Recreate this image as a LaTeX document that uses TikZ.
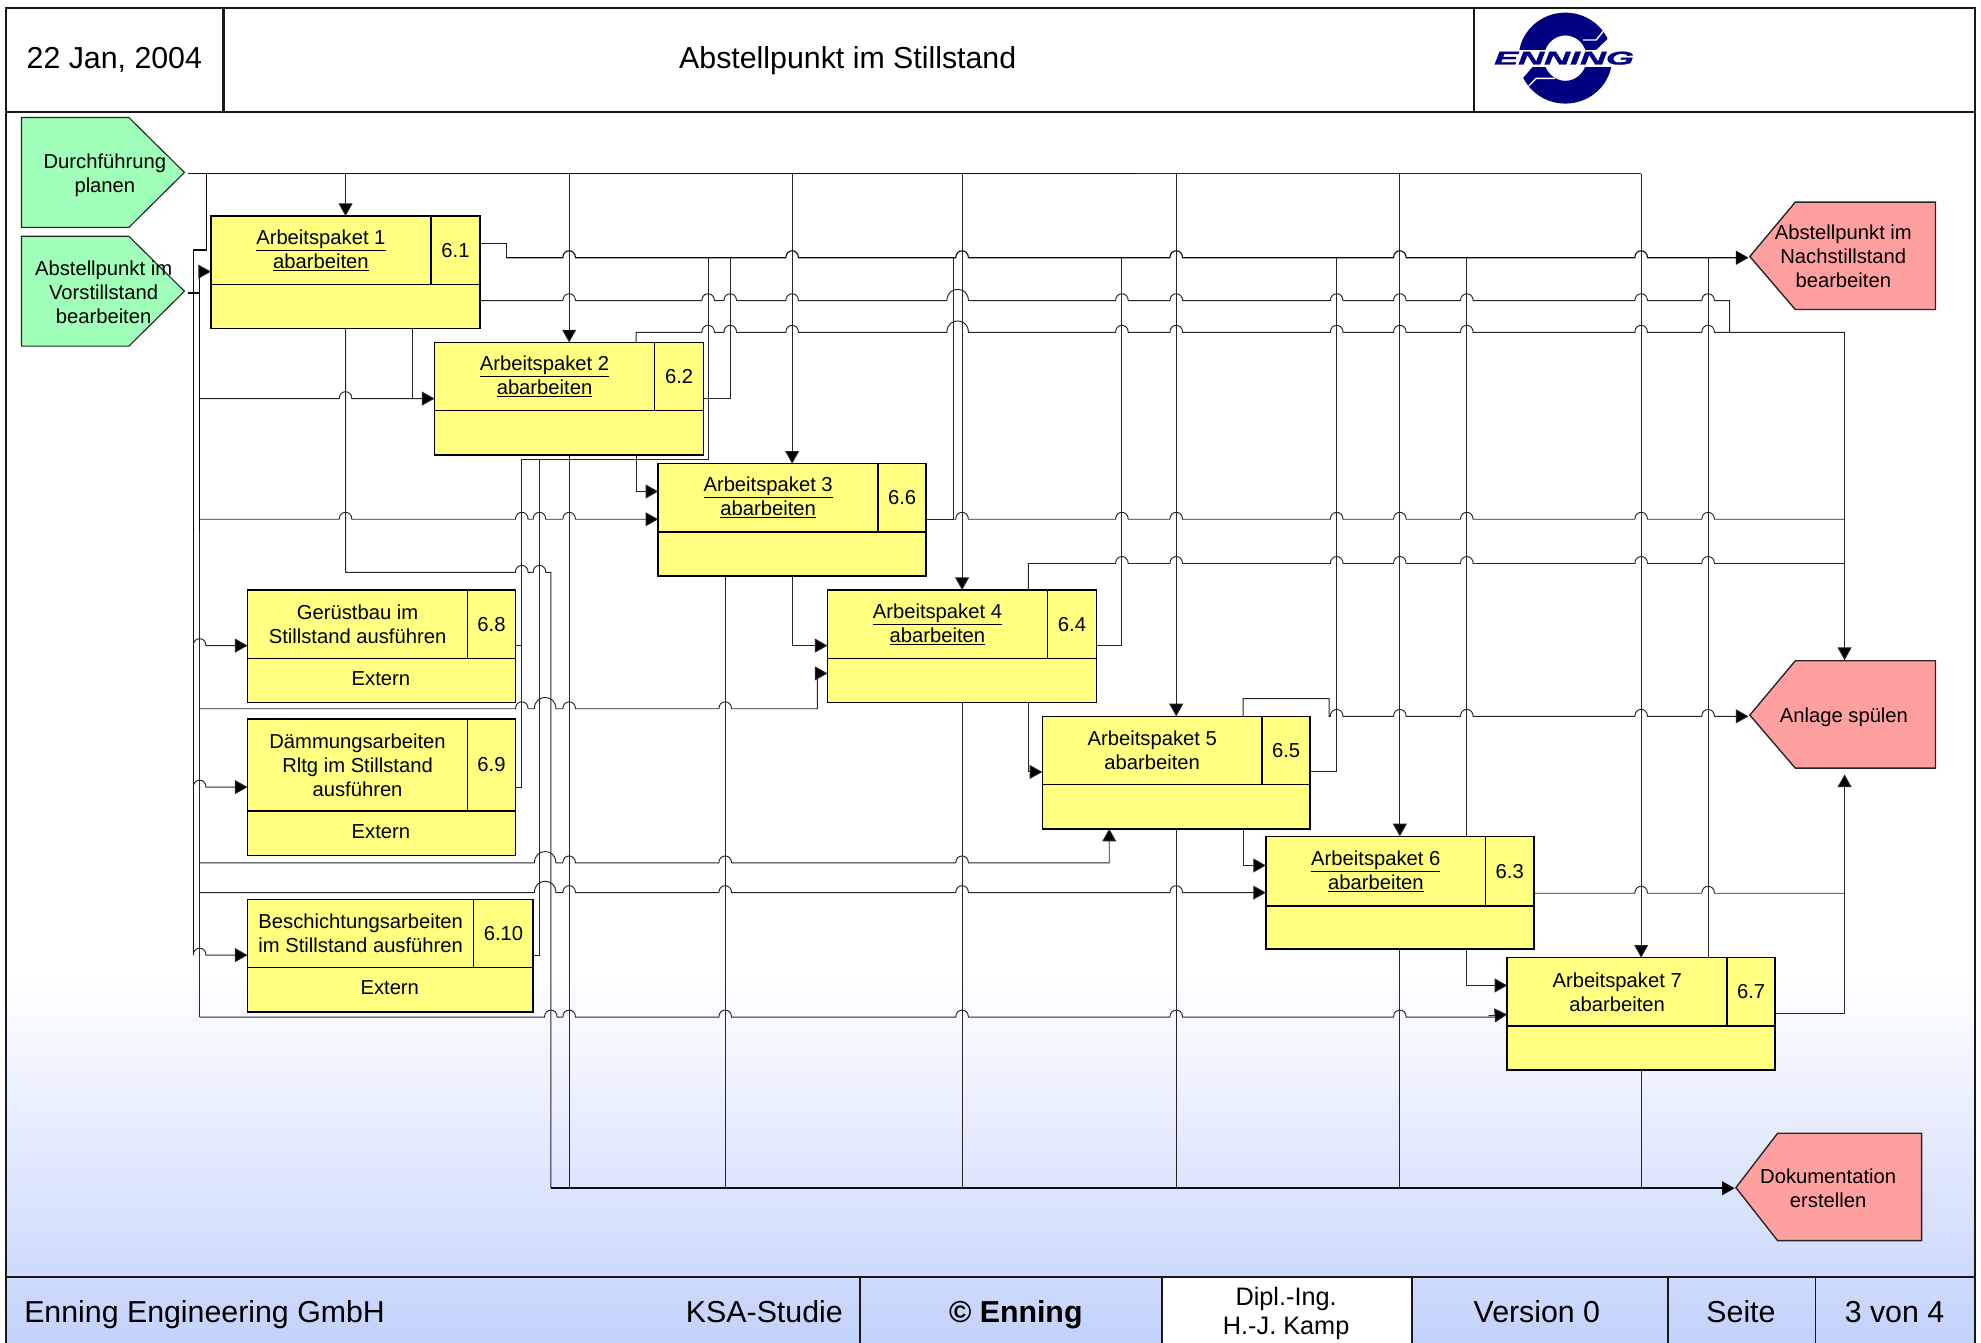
\documentclass[tikz,border=0pt]{standalone}
\usepackage{fontspec}
\setmainfont{Liberation Sans}
\newfontfamily\logofont[BoldItalicFeatures={FakeBold=1.5}]{Liberation Sans}
\usetikzlibrary{arrows.meta}
\definecolor{wpyellow}{HTML}{FFFF80}
\definecolor{ingreen}{HTML}{A0FFB8}
\definecolor{outred}{HTML}{FFA0A0}
\definecolor{footblue}{HTML}{C3D2FB}
\definecolor{logonavy}{HTML}{000080}
\newcommand{\hj}[2]{-- (#1-5,#2) .. controls (#1-5,#2-7.3) and (#1+5,#2-7.3) .. (#1+5,#2)}
\newcommand{\hJ}[2]{-- (#1-8.5,#2) .. controls (#1-8.5,#2-12) and (#1+8.5,#2-12) .. (#1+8.5,#2)}
\newcommand{\wpack}[9]{%
  \pgfmathsetmacro\wpW{#4-#2}\pgfmathsetmacro\wpH{#5-#3}%
  \node[wpbox,minimum width=\wpW pt,minimum height=\wpH pt] (#1) at ({(#2+#4)/2},{(#3+#5)/2}) {};
  \draw[wpline] (#6,#3) -- (#6,#7) (#2,#7) -- (#4,#7);
  \node[txt] (#1t) at ({(#2+#6)/2},{(#3+#7)/2}) {#8};
  \node[txt] (#1n) at ({(#6+#4)/2},{(#3+#7)/2}) {#9};
}
\tikzset{
  wpbox/.style={draw=black,fill=wpyellow,line width=1.2pt,inner sep=0pt,outer sep=0pt},
  wpline/.style={draw=black,line width=1.1pt},
  txt/.style={font=\fontsize{16}{19}\selectfont,align=center,inner sep=0pt,text=black},
  big/.style={font=\fontsize{24}{26}\selectfont,align=center,inner sep=0pt,text=black,anchor=base},
  frameline/.style={draw=black!90,line width=1.5pt},
  lnk/.style={draw=black!85,line width=0.75pt},
  heavy/.style={draw=black!95,line width=1.2pt},
  arr/.style={lnk,-{Triangle[length=10pt,width=11pt,fill=black]}},
  harr/.style={heavy,-{Triangle[length=10pt,width=11pt,fill=black]}},
  green flag/.style={draw=black!85,fill=ingreen,line width=0.9pt},
  red flag/.style={draw=black!85,fill=outred,line width=1.1pt},
}
\begin{document}
\begin{tikzpicture}[x=1pt,y=-1pt]
\useasboundingbox (0,0) rectangle (1568,1063);
% backgrounds
\fill[white] (0,0) rectangle (1568,1063);
\shade[top color=white,bottom color=footblue,shading angle=0] (5,770) rectangle (1563,1063);
\fill[white] (920,1011) rectangle (1117,1063);
% header and footer frame
\draw[frameline] (5,1063) -- (5,6) -- (1563,6) -- (1563,1063);
\draw[frameline] (5,89) -- (1563,89) (5,1011) -- (1563,1011);
\draw[frameline,line width=1.8pt] (177,6) -- (177,89);
\draw[frameline] (1167,6) -- (1167,89);
\draw[frameline] (681,1011) -- (681,1063) (919.5,1011) -- (919.5,1063) (1117.5,1011) -- (1117.5,1063) (1320,1011) -- (1320,1063) (1437,1011) -- (1437,1063);
\node[big] (hdate) at (90.5,54.5) {22 Jan, 2004};
\node[big] (htitle) at (671,54.5) {Abstellpunkt im Stillstand};
\node[big,anchor=base west] (fcomp) at (19,1046.5) {Enning Engineering GmbH};
\node[big] (fksa) at (605,1046.5) {KSA-Studie};
\node[big] (fcopy) at (804,1046.5) {\bfseries © Enning};
\node[font=\fontsize{20}{23}\selectfont,align=center,inner sep=0pt] (fauth) at (1018,1039.5) {Dipl.-Ing.\\H.-J. Kamp};
\node[big] (fver) at (1216.5,1046.5) {Version 0};
\node[big] (fseite) at (1378,1046.5) {Seite};
\node[big] (fpage) at (1499.5,1046.5) {3 von 4};
% logo
\fill[logonavy,even odd rule] (1239,46) circle[x radius=37,y radius=36] (1239,46) circle[x radius=17,y radius=18];
\fill[white] (1273.1,30.3) -- (1263.4,39.6) -- (1286,39.6) -- (1286,30.3) -- cycle;
\fill[white] (1205.1,62) -- (1213.1,52.8) -- (1190.9,52.8) -- (1190.9,62) -- cycle;
\draw[white,line width=1.1pt] (1253,31.7) -- (1263.4,31.7) -- (1269.3,24.3);
\draw[white,line width=1.1pt] (1210.1,68) -- (1216,62) -- (1230.8,62);
\fill[white] (1180,39.5) rectangle (1296,52.8);
\node[inner sep=0pt,text=logonavy,font=\fontsize{14.5}{15}\selectfont\logofont\bfseries\itshape,xscale=1.96,transform shape] (logotxt) at (1238,46) {ENNING};
% flags
\draw[green flag] (17,93) -- (102,93) -- (146,136.5) -- (102,180) -- (17,180) -- cycle;
\draw[green flag] (17,187) -- (102,187) -- (146,230.5) -- (102,274) -- (17,274) -- cycle;
\draw[red flag] (1532,160) -- (1421,160) -- (1385,203) -- (1421,245) -- (1532,245) -- cycle;
\draw[red flag] (1532,523) -- (1421,523) -- (1385,566) -- (1421,608) -- (1532,608) -- cycle;
\draw[red flag] (1521,897) -- (1407,897) -- (1374,940) -- (1407,982) -- (1521,982) -- cycle;
\node[txt] (f1) at (83,138.5) {Durchführung\\planen};
\node[txt] (f2) at (82,231.5) {Abstellpunkt im\\Vorstillstand\\bearbeiten};
\node[txt] (r1) at (1459,202.5) {Abstellpunkt im\\Nachstillstand\\bearbeiten};
\node[txt] (r2) at (1459.5,567.5) {Anlage spülen};
\node[txt] (r3) at (1447,940.5) {Dokumentation\\erstellen};
% work packages
\wpack{ap1}{167}{171}{380}{260}{341}{225}{\underline{Arbeitspaket 1}\\\underline{abarbeiten}}{6.1}
\wpack{ap2}{344}{271}{557}{360}{518}{325}{\underline{Arbeitspaket 2}\\\underline{abarbeiten}}{6.2}
\wpack{ap3}{521}{367}{733}{456}{695}{421}{\underline{Arbeitspaket 3}\\\underline{abarbeiten}}{6.6}
\wpack{ap4}{655}{467}{868}{556}{829}{521}{\underline{Arbeitspaket 4}\\\underline{abarbeiten}}{6.4}
\wpack{ap5}{825}{567}{1037}{656}{999}{621}{Arbeitspaket 5\\abarbeiten}{6.5}
\wpack{ap6}{1002}{662}{1214}{751}{1176}{717}{\underline{Arbeitspaket 6}\\\underline{abarbeiten}}{6.3}
\wpack{ap7}{1193}{758}{1405}{847}{1367}{812}{Arbeitspaket 7\\abarbeiten}{6.7}
\wpack{gb8}{196}{467}{408}{556}{370}{521}{Gerüstbau im\\Stillstand ausführen}{6.8}
\wpack{gb9}{196}{569}{408}{677}{370}{642}{Dämmungsarbeiten\\Rltg im Stillstand\\ausführen}{6.9}
\wpack{gb10}{196}{712}{422}{801}{375}{766}{Beschichtungsarbeiten\\im Stillstand ausführen}{6.10}
\node[txt] (e8) at (301.5,537.5) {Extern};
\node[txt] (e9) at (301.5,658.5) {Extern};
\node[txt] (e10) at (308.5,782) {Extern};
% named connector ends
\coordinate (f1o) at (149,137.5);
\coordinate (f2o) at (149,232);
\coordinate (trunkE) at (1299,137.5);
\coordinate (colAt) at (163.5,198);
\coordinate (colAb) at (153,756);
\coordinate (colBt) at (158,215);
\coordinate (colBb) at (158,805);
\coordinate (busR) at (401,204);
\coordinate (busD) at (436,940.5);
\coordinate (r1i) at (1384,204);
\coordinate (r2i) at (1384,567);
\coordinate (r2t) at (1460,522.5);
\coordinate (r2b) at (1460,613);
\coordinate (r3i) at (1373,940.5);
\coordinate (outV) at (1460,263);
% Durchführung planen: trunk and drops
\draw[heavy] (f1o) -- (trunkE -| 900,0);
\draw[lnk] (trunkE -| 900,0) -- (trunkE);
\draw[heavy] (colAt |- f1o) -- (colAt) -- (colAb |- colAt) -- (colAb);
\draw[arr] (ap1.north |- f1o) -- (ap1.north);
\draw[arr] (ap2.north |- f1o) -- (ap2.north);
\draw[arr] (ap3.north |- f1o) -- (ap3.north);
\draw[arr] (ap4.north |- f1o) -- (ap4.north);
\draw[arr] (ap5.north |- f1o) -- (ap5.north);
\draw[arr] (ap6.north |- f1o) -- (ap6.north);
\draw[arr] (trunkE) -- (ap7.north);
\draw[arr] (colAb |- 0,511) \hj{158}{511} -- (gb8.west |- 0,511);
\draw[arr] (colAb |- 0,623) \hj{158}{623} -- (gb9.west |- 0,623);
\draw[arr] (colAb) \hj{158}{756} -- (gb10.west |- colAb);
% Vorstillstand: column and branches
\draw[heavy] (f2o) -- (colBt |- f2o);
\draw[heavy] (colBt) -- (colBb |- 0,420);
\draw[lnk] (colBb |- 0,420) -- (colBb);
\draw[arr] (colBt) -- (ap1.west |- colBt);
\draw[arr] (colBt |- 0,315.5) \hj{273.5}{315.5} -- (ap2.west |- 0,315.5);
\draw[arr] (colBt |- 0,411) \hj{273.5}{411} \hj{413}{411} \hj{427}{411} \hj{450.5}{411} -- (ap3.west |- 0,411);
\draw[arr] (colBt |- 0,561) \hj{413}{561} \hJ{431.5}{561} \hj{450.5}{561} \hj{574}{561} -- (647,561) -- (647,533) -- (ap4.west |- 0,533);
\draw[arr] (colBt |- 0,683) \hJ{431.5}{683} \hj{450.5}{683} \hj{574}{683} \hj{761.5}{683} -- (878,683) -- (ap5.south -| 878,0);
\draw[arr] (colBt |- 0,706.5) \hJ{431.5}{706.5} \hj{450.5}{706.5} \hj{574}{706.5} \hj{761.5}{706.5} \hj{931}{706.5} -- (ap6.west |- 0,706.5);
\draw[lnk] (colBb) \hj{436}{805} \hj{450.5}{805} \hj{574}{805} \hj{761.5}{805} \hj{931}{805} \hj{1108}{805} -- (1184,805);
\draw[arr] (1178,804) -- (ap7.west |- 0,803);
% bus to Abstellpunkt im Nachstillstand
\draw[lnk] (ap1.east |- 0,193) -- (busR |- 0,193) -- (busR);
\draw[harr,line width=0.9pt] (busR) \hj{450.5}{204} \hj{627}{204} \hj{761.5}{204} \hj{931}{204} \hj{1108}{204} \hj{1299}{204} -- (r1i);
\draw[lnk] (ap2.east |- 0,315.5) -- (578,315.5) -- (578,0 |- busR);
\draw[lnk] (ap3.east |- 0,411) -- (755,411) -- (755,0 |- busR);
\draw[lnk] (ap4.east |- 0,511) -- (888,511) -- (888,0 |- busR);
\draw[lnk] (ap5.east |- 0,611) -- (1058,611) -- (1058,0 |- busR);
\draw[lnk] (ap6.north -| 1161,0) -- (1161,0 |- busR);
\draw[lnk] (ap7.north -| 1352,0) -- (1352,0 |- busR);
\draw[lnk] (gb9.east |- 0,623) -- (413,623) -- (413,363.5) -- (560.5,363.5) -- (560.5,0 |- busR);
\draw[lnk] (gb8.east |- 0,511) -- (413,511);
\draw[lnk] (gb10.east |- 0,756) -- (427,756) -- (427,363.5);
% horizontal runs to Anlage spülen
\draw[lnk] (ap1.east |- 0,238) \hj{450.5}{238} \hj{560.5}{238} \hj{578}{238} \hj{627}{238} \hJ{758}{238} \hj{888}{238} \hj{931}{238} \hj{1058}{238} \hj{1108}{238} \hj{1161}{238} \hj{1299}{238} \hj{1352}{238} -- (1369,238) -- (1369,0 |- outV);
\draw[lnk] (ap2.north -| 503.5,0) -- (503.5,263) \hj{560.5}{263} \hj{578}{263} \hj{627}{263} \hJ{758}{263} \hj{888}{263} \hj{931}{263} \hj{1058}{263} \hj{1108}{263} \hj{1161}{263} \hj{1299}{263} \hj{1352}{263} -- (outV);
\draw[arr] (outV) -- (r2t);
\draw[lnk] (755,411) \hj{761.5}{411} \hj{888}{411} \hj{931}{411} \hj{1058}{411} \hj{1108}{411} \hj{1161}{411} \hj{1299}{411} \hj{1352}{411} -- (outV |- 0,411);
\draw[lnk] (ap4.north -| 814,0) -- (814,446) \hj{888}{446} \hj{931}{446} \hj{1058}{446} \hj{1108}{446} \hj{1161}{446} \hj{1299}{446} \hj{1352}{446} -- (outV |- 0,446);
\draw[arr] (ap5.north -| 984,0) -- (984,553) -- (1052,553) -- (1052,567) \hj{1058}{567} \hj{1108}{567} \hj{1161}{567} \hj{1299}{567} \hj{1352}{567} -- (r2i);
\draw[lnk] (ap6.east |- 0,707) \hj{1299}{707} \hj{1352}{707} -- (outV |- 0,707);
\draw[arr] (ap7.east |- 0,802.5) -- (outV |- 0,802.5) -- (r2b);
% sequence links between packages
\draw[lnk] (ap1.south -| 326.5,0) -- (326.5,315.5);
\draw[arr] (ap2.south -| 503.5,0) -- (503.5,389) -- (ap3.west |- 0,389);
\draw[arr] (ap3.south) -- (627,511) -- (ap4.west |- 0,511);
\draw[arr] (ap4.south -| 814,0) -- (814,611) -- (ap5.west |- 0,611);
\draw[arr] (ap5.south -| 984,0) -- (984,685) -- (ap6.west |- 0,685);
\draw[arr] (ap6.south -| 1161,0) -- (1161,780) -- (ap7.west |- 0,780);
% collector to Dokumentation erstellen
\draw[lnk] (ap1.south) -- (273.5,453) \hj{413}{453} \hj{427}{453} -- (busD |- 0,453) -- (busD);
\draw[lnk] (ap2.south) -- (ap2.south |- busD);
\draw[lnk] (ap3.south -| 574,0) -- (574,0 |- busD);
\draw[lnk] (ap4.south) -- (ap4.south |- busD);
\draw[lnk] (ap5.south) -- (ap5.south |- busD);
\draw[lnk] (ap6.south) -- (ap6.south |- busD);
\draw[lnk] (ap7.south) -- (ap7.south |- busD);
\draw[harr] (busD) -- (r3i);
\end{tikzpicture}
\end{document}
